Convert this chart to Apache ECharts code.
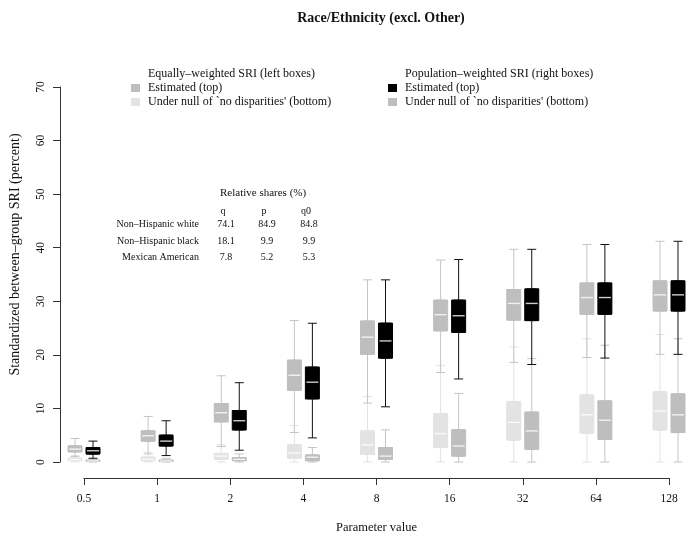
<!DOCTYPE html>
<html><head><meta charset="utf-8">
<script src="https://cdn.jsdelivr.net/npm/echarts@6/dist/echarts.min.js"></script>
<style>html,body{margin:0;padding:0;background:#fff}#c{width:693px;height:541px}</style>
</head><body><div id="c"></div>
<script>
// ---------- data ----------
const chartTitle = 'Race/Ethnicity (excl. Other)';
const xAxisTitle = 'Parameter value';
const yAxisTitle = 'Standardized between–group SRI (percent)';
const paramLabels = ['0.5', '1', '2', '4', '8', '16', '32', '64', '128'];
const yMin = 0, yMax = 70, yStep = 10;

// [min, Q1, median, Q3, max] per parameter value
const eqEstimated = [
  [1.0, 1.9, 2.4, 3.0, 4.4],
  [1.5, 3.9, 4.9, 5.8, 8.5],
  [2.9, 7.5, 9.2, 10.9, 16.1],
  [5.5, 13.4, 16.2, 19.0, 26.4],
  [11.0, 20.1, 23.3, 26.3, 34.0],
  [16.7, 24.5, 27.5, 30.2, 37.7],
  [18.6, 26.5, 29.6, 32.2, 39.7],
  [19.5, 27.6, 30.7, 33.4, 40.6],
  [20.1, 28.2, 31.2, 33.8, 41.2]
];
const popEstimated = [
  [0.7, 1.5, 2.1, 2.7, 3.9],
  [1.2, 3.0, 3.9, 5.0, 7.7],
  [2.2, 6.0, 7.7, 9.6, 14.8],
  [4.5, 11.8, 14.9, 17.7, 25.9],
  [10.3, 19.4, 22.6, 25.9, 34.0],
  [15.5, 24.2, 27.3, 30.2, 37.8],
  [18.2, 26.4, 29.6, 32.3, 39.7],
  [19.4, 27.6, 30.7, 33.4, 40.6],
  [20.1, 28.2, 31.2, 33.8, 41.2]
];
const eqNull = [
  [0.0, 0.25, 0.45, 0.7, 1.2],
  [0.0, 0.25, 0.5, 0.9, 1.8],
  [0.0, 0.5, 1.1, 1.6, 3.2],
  [0.0, 0.7, 1.7, 3.2, 6.8],
  [0.0, 1.4, 3.2, 5.8, 12.2],
  [0.0, 2.7, 5.3, 9.0, 18.0],
  [0.0, 4.1, 7.4, 11.3, 21.5],
  [0.0, 5.4, 8.8, 12.5, 23.0],
  [0.0, 6.0, 9.5, 13.1, 23.8]
];
const popNull = [
  [0.0, 0.1, 0.2, 0.35, 0.6],
  [0.0, 0.1, 0.2, 0.35, 0.7],
  [0.0, 0.25, 0.5, 0.8, 1.5],
  [0.0, 0.25, 0.9, 1.3, 2.7],
  [0.0, 0.5, 1.1, 2.7, 6.0],
  [0.0, 1.1, 3.0, 6.0, 12.8],
  [0.0, 2.4, 5.8, 9.3, 19.3],
  [0.0, 4.2, 7.8, 11.4, 21.8],
  [0.0, 5.5, 8.8, 12.7, 23.0]
];

// legend texts
const legendLeftHeader = 'Equally–weighted SRI (left boxes)';
const legendRightHeader = 'Population–weighted SRI (right boxes)';
const legendItemTop = 'Estimated (top)';
const legendItemBottom = "Under null of `no disparities' (bottom)";

// relative shares table
const shareTitle = 'Relative shares (%)';
const shareColumns = ['q', 'p', 'q0'];
const shareGroups = ['Non–Hispanic white', 'Non–Hispanic black', 'Mexican American'];
const shareQ = ['74.1', '18.1', '7.8'];
const shareP = ['84.9', '9.9', '5.2'];
const shareQ0 = ['84.8', '9.9', '5.3'];

// ---------- layout / style ----------
const FONT = '"Liberation Serif", "Times New Roman", serif';
const G = {left: 84, right: 24, top: 87, bottom: 79};
const SHIFT = 9;
const BOXW = 14;
const CAPW = 9;
const AXIS_COLOR = '#333333';
const sets = [
  {data: eqEstimated, fill: '#bebebe', line: '#c4c4c4', shift: -SHIFT, z: 4},
  {data: eqNull, fill: '#e3e3e3', line: '#e3e3e3', shift: -SHIFT, z: 3},
  {data: popEstimated, fill: '#000000', line: '#111111', shift: SHIFT, z: 4},
  {data: popNull, fill: '#bebebe', line: '#c4c4c4', shift: SHIFT, z: 3}
];

const grids = [Object.assign({outerBoundsMode: 'none'}, G)];
const xAxes = [{
  gridIndex: 0, type: 'category', data: paramLabels, boundaryGap: false,
  offset: 16, z: 10,
  axisLine: {show: true, onZero: false, lineStyle: {color: AXIS_COLOR, width: 1}},
  axisTick: {show: true, length: 7, lineStyle: {color: AXIS_COLOR, width: 1}},
  axisLabel: {color: '#111', fontFamily: FONT, fontSize: 11.5, margin: 15},
  splitLine: {show: false},
  name: xAxisTitle, nameLocation: 'middle', nameGap: 43,
  nameTextStyle: {color: '#111', fontFamily: FONT, fontSize: 12.5}
}];
const yAxes = [{
  gridIndex: 0, type: 'value', min: yMin, max: yMax, interval: yStep,
  offset: 24, z: 10,
  axisLine: {show: true, onZero: false, lineStyle: {color: AXIS_COLOR, width: 1}},
  axisTick: {show: true, length: 7, lineStyle: {color: AXIS_COLOR, width: 1}},
  axisLabel: {color: '#111', fontFamily: FONT, fontSize: 11.5, rotate: 90, margin: 13},
  splitLine: {show: false},
  name: yAxisTitle, nameLocation: 'middle', nameGap: 38, nameRotate: 90,
  nameTextStyle: {color: '#111', fontFamily: FONT, fontSize: 14, padding: [0, 0, 0, 40]}
}];
const series = [];
function addGrid(shift) {
  const gi = grids.length;
  grids.push({left: G.left + shift, right: G.right - shift, top: G.top, bottom: G.bottom, outerBoundsMode: 'none'});
  xAxes.push({gridIndex: gi, type: 'category', data: paramLabels, boundaryGap: false, show: false});
  yAxes.push({gridIndex: gi, type: 'value', min: yMin, max: yMax, show: false});
  return gi;
}
sets.forEach((s) => {
  // whiskers with narrow caps
  const gw = addGrid(s.shift);
  series.push({
    type: 'boxplot', xAxisIndex: gw, yAxisIndex: gw, z: s.z,
    boxWidth: [CAPW, CAPW],
    data: s.data,
    itemStyle: {color: s.line, borderColor: s.line, borderWidth: 1},
    emphasis: {disabled: true}, silent: true
  });
  // the box itself (Q1..Q3), full width
  const gb = addGrid(s.shift);
  series.push({
    type: 'boxplot', xAxisIndex: gb, yAxisIndex: gb, z: s.z + 1,
    boxWidth: [BOXW, BOXW],
    data: s.data.map(d => [d[1], d[1], d[2], d[3], d[3]]),
    itemStyle: {color: s.fill, borderColor: s.fill, borderWidth: 1},
    emphasis: {disabled: true}, silent: true
  });
  // white median line
  series.push({
    type: 'scatter', xAxisIndex: gb, yAxisIndex: gb, z: s.z + 2,
    symbol: 'rect', symbolSize: [BOXW - 2, 1.4],
    data: s.data.map(d => d[2]),
    itemStyle: {color: '#ffffff'},
    emphasis: {disabled: true}, silent: true
  });
});

// graphic texts
const txt = (text, x, y, size, align) => ({
  type: 'text', x: x, y: y, silent: true,
  style: {text: text, fill: '#111', font: size + 'px ' + FONT, fontSize: size, fontFamily: FONT,
          align: align, textAlign: align, verticalAlign: 'middle', textVerticalAlign: 'middle'}
});
const rect = (x, y, w, h, color) => ({type: 'rect', silent: true, shape: {x: x, y: y, width: w, height: h}, style: {fill: color}});

const graphics = [];
// legend left
graphics.push(txt(legendLeftHeader, 148, 74, 12, 'left'));
graphics.push(rect(131, 84, 9, 8, sets[0].fill));
graphics.push(txt(legendItemTop, 148, 88, 12, 'left'));
graphics.push(rect(131, 98, 9, 8, sets[1].fill));
graphics.push(txt(legendItemBottom, 148, 102, 12, 'left'));
// legend right
graphics.push(txt(legendRightHeader, 405, 74, 12, 'left'));
graphics.push(rect(388, 84, 9, 8, sets[2].fill));
graphics.push(txt(legendItemTop, 405, 88, 12, 'left'));
graphics.push(rect(388, 98, 9, 8, sets[3].fill));
graphics.push(txt(legendItemBottom, 405, 102, 12, 'left'));
// shares table
graphics.push(txt(shareTitle, 220, 193, 11, 'left'));
const colX = [226, 267, 309];
shareColumns.forEach((c, j) => graphics.push(txt(c, colX[j] - 3, 211, 10, 'center')));
const cols = [shareQ, shareP, shareQ0];
shareGroups.forEach((g, r) => {
  const y = 224.5 + r * 16.5;
  graphics.push(txt(g, 199, y, 10, 'right'));
  cols.forEach((col, j) => graphics.push(txt(col[r], colX[j], y, 10, 'center')));
});

const chart = echarts.init(document.getElementById('c'), null, {renderer: 'canvas'});
chart.setOption({
  animation: false,
  backgroundColor: '#ffffff',
  title: {
    text: chartTitle, left: 376, top: 6, textAlign: 'center',
    textStyle: {fontFamily: FONT, fontSize: 14, fontWeight: 'bold', color: '#111'}
  },
  tooltip: {show: false},
  grid: grids,
  xAxis: xAxes,
  yAxis: yAxes,
  series: series,
  graphic: graphics
});
</script>
</body></html>
